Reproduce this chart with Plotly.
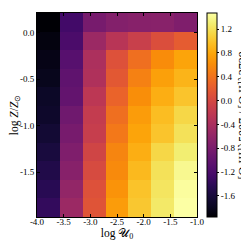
import numpy as np
import plotly.graph_objects as go

# cell edges (image extent)
log_U_edges = [-4.0, -3.5714, -3.1429, -2.7143, -2.2857, -1.8571, -1.4286, -1.0]
log_Z_edges = [-1.985, -1.785, -1.585, -1.385, -1.185, -0.985, -0.785, -0.585, -0.385, -0.185, 0.015, 0.215]

# ratio log([O III]/[O II]); rows from top (high Z) to bottom (low Z)
ratio_rows_top_down = [
    [-1.95, -1.27, -0.82, -0.72, -0.69, -0.68, -0.76],
    [-1.89, -1.20, -0.52, -0.28, -0.11, 0.07, 0.20],
    [-1.85, -1.10, -0.38, 0.10, 0.37, 0.60, 0.78],
    [-1.82, -1.03, -0.35, 0.17, 0.51, 0.75, 0.89],
    [-1.75, -0.99, -0.24, 0.27, 0.61, 0.85, 1.00],
    [-1.72, -0.89, -0.17, 0.37, 0.72, 0.95, 1.13],
    [-1.65, -0.82, -0.14, 0.44, 0.78, 1.00, 1.20],
    [-1.58, -0.76, -0.04, 0.54, 0.85, 1.13, 1.30],
    [-1.51, -0.69, 0.03, 0.58, 0.92, 1.20, 1.40],
    [-1.44, -0.59, 0.10, 0.65, 0.99, 1.23, 1.45],
    [-1.37, -0.52, 0.13, 0.72, 1.02, 1.26, 1.47],
]
z = ratio_rows_top_down[::-1]

cbar_ticks = [-1.6, -1.2, -0.8, -0.4, 0.0, 0.4, 0.8, 1.2]
x_ticks = [-4.0, -3.5, -3.0, -2.5, -2.0, -1.5, -1.0]
y_ticks = [0.0, -0.5, -1.0, -1.5]
cbar_label = "[O III]λ5007 / [O II]λ3729"

inferno = [
    [0.00, "#000004"], [0.05, "#0a0722"], [0.10, "#160b39"], [0.15, "#280b53"],
    [0.20, "#420a68"], [0.25, "#57106e"], [0.30, "#6a176e"], [0.35, "#7f1e6c"],
    [0.40, "#932667"], [0.45, "#a82e5f"], [0.50, "#bc3754"], [0.55, "#cc4248"],
    [0.60, "#dd513a"], [0.65, "#ea632a"], [0.70, "#f37819"], [0.75, "#f98e09"],
    [0.80, "#fca50a"], [0.85, "#fbbe23"], [0.90, "#f6d746"], [0.95, "#f2ee72"],
    [1.00, "#fcffa4"],
]

FONT = "Liberation Serif"

fig = go.Figure(go.Heatmap(
    x=log_U_edges, y=log_Z_edges, z=z,
    colorscale=inferno, zmin=-1.955, zmax=1.47,
    colorbar=dict(
        thickness=10, len=1.0, lenmode="fraction", y=0.5, yanchor="middle",
        x=1.06, xanchor="left", xpad=0, ypad=0,
        outlinecolor="black", outlinewidth=1,
        tickvals=cbar_ticks, ticktext=[f"{t:.1f}" for t in cbar_ticks],
        ticks="outside", ticklen=2, tickcolor="black",
        tickfont=dict(family=FONT, size=9, color="black"),
    ),
    showscale=True,
))

axis_common = dict(
    showline=True, linecolor="black", linewidth=1, mirror="ticks",
    ticks="inside", ticklen=3, tickcolor="black", showgrid=False, zeroline=False,
    tickfont=dict(family=FONT, size=9, color="black"),
)

fig.update_xaxes(range=[-4.0, -1.0], tickvals=x_ticks,
                 ticktext=[f"{t:.1f}" for t in x_ticks], ticklabelstandoff=-4,
                 title=dict(text="log 𝒰<sub>0</sub>", standoff=2,
                            font=dict(family=FONT, size=11.5, color="black")),
                 **axis_common)
fig.update_yaxes(range=[-1.985, 0.215], tickvals=y_ticks,
                 ticktext=[f"{t:.1f}" for t in y_ticks],
                 title=dict(text="log <i>Z</i>/<i>Z</i><sub>⊙</sub>", standoff=6,
                            font=dict(family=FONT, size=11.5, color="black")),
                 **axis_common)

fig.add_annotation(
    text=cbar_label, textangle=-90, showarrow=False,
    xref="paper", yref="paper", x=1.29, y=0.5,
    xanchor="center", yanchor="middle",
    font=dict(family=FONT, size=12, color="black"),
)

# page body adds an 8px offset; compensate so the plot area lands where the reference has it
fig.update_layout(
    width=241, height=241,
    margin=dict(l=28.5, r=52, t=4.5, b=32, pad=0, autoexpand=False),
    paper_bgcolor="white", plot_bgcolor="white",
)

fig.write_html("out.html")
